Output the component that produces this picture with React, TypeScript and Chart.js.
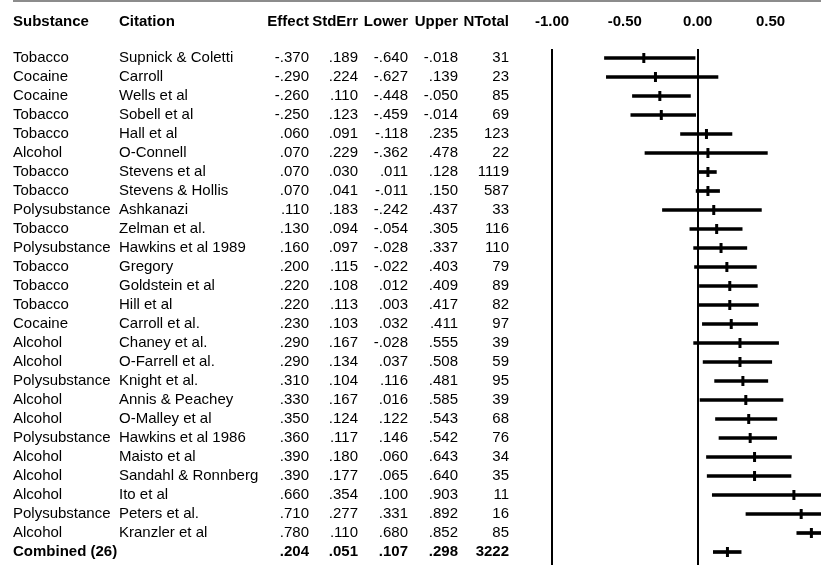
import React, { useEffect, useRef } from "react";
import { Chart, registerables } from "chart.js";

Chart.register(...registerables);

const substances = [
  "Tobacco", "Cocaine", "Cocaine", "Tobacco", "Tobacco", "Alcohol", "Tobacco", "Tobacco",
  "Polysubstance", "Tobacco", "Polysubstance", "Tobacco", "Tobacco", "Tobacco", "Cocaine",
  "Alcohol", "Alcohol", "Polysubstance", "Alcohol", "Alcohol", "Polysubstance", "Alcohol",
  "Alcohol", "Alcohol", "Polysubstance", "Alcohol", "Combined (26)",
];
const citations = [
  "Supnick & Coletti", "Carroll", "Wells et al", "Sobell et al", "Hall et al", "O-Connell",
  "Stevens et al", "Stevens & Hollis", "Ashkanazi", "Zelman et al.", "Hawkins et al 1989",
  "Gregory", "Goldstein et al", "Hill et al", "Carroll et al.", "Chaney et al.",
  "O-Farrell et al.", "Knight et al.", "Annis & Peachey", "O-Malley et al",
  "Hawkins et al 1986", "Maisto et al", "Sandahl & Ronnberg", "Ito et al", "Peters et al.",
  "Kranzler et al", "",
];
const effects = [
  -0.37, -0.29, -0.26, -0.25, 0.06, 0.07, 0.07, 0.07, 0.11, 0.13, 0.16, 0.2, 0.22, 0.22,
  0.23, 0.29, 0.29, 0.31, 0.33, 0.35, 0.36, 0.39, 0.39, 0.66, 0.71, 0.78, 0.204,
];
const stdErrs = [
  0.189, 0.224, 0.11, 0.123, 0.091, 0.229, 0.03, 0.041, 0.183, 0.094, 0.097, 0.115, 0.108,
  0.113, 0.103, 0.167, 0.134, 0.104, 0.167, 0.124, 0.117, 0.18, 0.177, 0.354, 0.277, 0.11,
  0.051,
];
const lowers = [
  -0.64, -0.627, -0.448, -0.459, -0.118, -0.362, 0.011, -0.011, -0.242, -0.054, -0.028,
  -0.022, 0.012, 0.003, 0.032, -0.028, 0.037, 0.116, 0.016, 0.122, 0.146, 0.06, 0.065, 0.1,
  0.331, 0.68, 0.107,
];
const uppers = [
  -0.018, 0.139, -0.05, -0.014, 0.235, 0.478, 0.128, 0.15, 0.437, 0.305, 0.337, 0.403, 0.409,
  0.417, 0.411, 0.555, 0.508, 0.481, 0.585, 0.543, 0.542, 0.643, 0.64, 0.903, 0.892, 0.852,
  0.298,
];
const nTotals = [
  31, 23, 85, 69, 123, 22, 1119, 587, 33, 116, 110, 79, 89, 82, 97, 39, 59, 95, 39, 68, 76,
  34, 35, 11, 16, 85, 3222,
];
const headers = ["Substance", "Citation", "Effect", "StdErr", "Lower", "Upper", "NTotal"];

const FONT_FAMILY = "'Liberation Sans', Arial, Helvetica, sans-serif";

function fmt(v: number): string {
  const s = Math.abs(v).toFixed(3).replace(/^0/, "");
  return v < 0 ? "-" + s : s;
}

const tablePlugin = {
  id: "forestTable",
  afterDraw(chart: any) {
    const ctx = chart.ctx;
    const yScale = chart.scales.y;
    ctx.save();
    // top rule
    ctx.fillStyle = "#8c8c8c";
    ctx.fillRect(13, 0, chart.width - 13, 2);

    ctx.fillStyle = "#000";
    ctx.textBaseline = "middle";
    const colLeft = [13, 119];
    const colRight = [309, 358, 408, 458, 509];
    const headY = 22;
    ctx.font = `bold 15px ${FONT_FAMILY}`;
    ctx.textAlign = "left";
    ctx.fillText(headers[0], colLeft[0], headY);
    ctx.fillText(headers[1], colLeft[1], headY);
    ctx.textAlign = "right";
    for (let c = 0; c < 5; c++) ctx.fillText(headers[c + 2], colRight[c], headY);

    const last = substances.length - 1;
    substances.forEach((sub, i) => {
      const y = yScale.getPixelForValue(i);
      ctx.font = `${i === last ? "bold " : ""}15px ${FONT_FAMILY}`;
      ctx.textAlign = "left";
      ctx.fillText(sub, colLeft[0], y);
      if (citations[i]) ctx.fillText(citations[i], colLeft[1], y);
      ctx.textAlign = "right";
      const vals = [fmt(effects[i]), fmt(stdErrs[i]), fmt(lowers[i]), fmt(uppers[i]), String(nTotals[i])];
      vals.forEach((t, c) => ctx.fillText(t, colRight[c], y));
    });
    ctx.restore();
  },
};

export default function App() {
  const ref = useRef<HTMLCanvasElement | null>(null);
  useEffect(() => {
    if (!ref.current) return;
    const chart = new Chart(ref.current, {
      type: "bar",
      data: {
        datasets: [
          {
            type: "bar",
            data: lowers.map((lo, i) => ({ y: i, x: [lo, uppers[i]] })) as any,
            backgroundColor: "#000",
            borderWidth: 0,
            barThickness: 3,
          },
          {
            type: "scatter",
            data: effects.map((e, i) => ({ x: e, y: i })),
            pointStyle: "line",
            rotation: 90,
            radius: 5,
            borderWidth: 3,
            borderColor: "#000",
            backgroundColor: "#000",
          } as any,
        ],
      },
      options: {
        indexAxis: "y",
        responsive: false,
        animation: false,
        events: [],
        layout: { autoPadding: false, padding: { left: 552, right: 0, top: 13, bottom: 0 } },
        plugins: { legend: { display: false }, tooltip: { enabled: false } },
        scales: {
          x: {
            type: "linear",
            position: "top",
            min: -1,
            max: 0.846,
            offset: false,
            border: { display: false },
            grid: {
              drawTicks: false,
              lineWidth: 2,
              color: (c: any) =>
                c.tick && (Math.abs(c.tick.value + 1) < 1e-9 || Math.abs(c.tick.value) < 1e-9)
                  ? "#000"
                  : "rgba(0,0,0,0)",
            },
            ticks: {
              stepSize: 0.5,
              includeBounds: false,
              padding: 18,
              color: "#000",
              font: { family: FONT_FAMILY, size: 15, weight: "bold" },
              callback: (v: any) => Number(v).toFixed(2),
            },
            afterFit: (scale: any) => {
              scale.height = 36;
              scale.paddingLeft = 0;
              scale.paddingRight = 0;
            },
          },
          y: {
            type: "linear",
            display: false,
            reverse: true,
            offset: false,
            min: -0.4737,
            max: 26.684,
            afterFit: (scale: any) => {
              scale.paddingTop = 0;
              scale.paddingBottom = 0;
            },
          },
        },
      },
      plugins: [tablePlugin],
    } as any);
    return () => chart.destroy();
  }, []);
  return (
    <div style={{ position: "absolute", left: 0, top: 0, width: 821, height: 565 }}>
      <canvas ref={ref} width={821} height={565} />
    </div>
  );
}
